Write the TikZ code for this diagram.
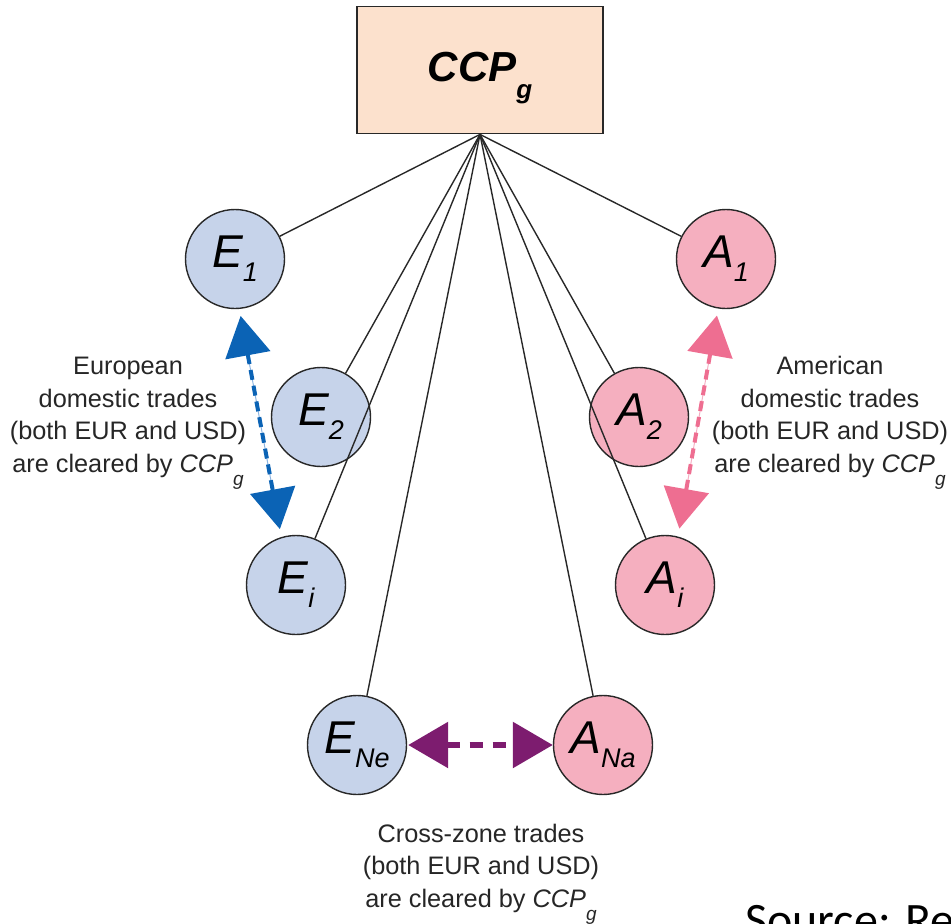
\documentclass[tikz,border=0pt]{standalone}
\usepackage{fontspec}
\setmainfont{Liberation Sans}
\newfontfamily\srcfont{Carlito}
\usetikzlibrary{arrows.meta}

\definecolor{ccpfill}{RGB}{252,225,205}
\definecolor{eufill}{RGB}{198,211,234}
\definecolor{amfill}{RGB}{245,175,191}
\definecolor{eublue}{RGB}{11,99,181}
\definecolor{eubluelight}{RGB}{140,180,225}
\definecolor{ampink}{RGB}{238,110,145}
\definecolor{ampinklight}{RGB}{245,175,195}
\definecolor{xpurple}{RGB}{125,28,111}
\definecolor{edgegray}{RGB}{40,40,40}

% participant label: italic letter with a lowered italic index
\newcommand{\plabel}[2]{{\fontsize{46}{46}\selectfont\itshape #1}\raisebox{-14pt}{\fontsize{27}{27}\selectfont\itshape #2}}
% CCP_g inside the running notes
\newcommand{\ccpinline}{{\itshape CCP}\raisebox{-13pt}{\fontsize{19}{19}\selectfont\itshape g}}

\begin{document}
\begin{tikzpicture}[x=1pt,y=-1pt,
  party/.style={circle, draw=edgegray, line width=1.4pt, minimum size=99pt, inner sep=0pt},
  eu/.style={party, fill=eufill},
  am/.style={party, fill=amfill},
  link/.style={draw=edgegray, line width=1.4pt},
  note/.style={align=center, inner sep=0pt, text=black!85, font=\fontsize{25.3}{32.5}\selectfont},
  tradeline/.style={line width=4pt, dash pattern=on 10pt off 6pt,
    {Triangle[length=40pt,width=45pt]}-{Triangle[length=40pt,width=45pt]}},
  guide/.style={line width=1pt}
]
\useasboundingbox (0,0) rectangle (951,924);

% central counterparty
\node[rectangle, draw=edgegray, line width=1.8pt, fill=ccpfill,
      minimum width=246pt, minimum height=127pt, inner sep=0pt,
      text height=32pt, text depth=10pt,
      font=\fontsize{42}{42}\selectfont\bfseries\itshape]
  (ccp) at (480,70) {CCP\raisebox{-17pt}{\fontsize{26}{26}\selectfont g}};

% European participants
\node[eu] (E1)  at (235,259) {\plabel{E}{1}};
\node[eu] (E2)  at (321,417) {\plabel{E}{2}};
\node[eu] (Ei)  at (296,585) {\plabel{E}{i}};
\node[eu] (ENe) at (357,745) {\plabel{E}{Ne}};

% American participants
\node[am] (A1)  at (726,259) {\plabel{A}{1}};
\node[am] (A2)  at (639,417) {\plabel{A}{2}};
\node[am] (Ai)  at (665,585) {\plabel{A}{i}};
\node[am] (ANa) at (603,745) {\plabel{A}{Na}};

% clearing links
\foreach \p in {E1,E2,Ei,ENe,A1,A2,Ai,ANa}
  \draw[link] (ccp.south) -- (\p);

% domestic trades (Europe)
\draw[guide, eubluelight, shorten <=40pt, shorten >=40pt] (E1.-85) -- (Ei.107);
\draw[tradeline, eublue, shorten <=7pt, shorten >=8pt] (E1.-85) -- (Ei.107);

% domestic trades (America)
\draw[guide, ampinklight, shorten <=40pt, shorten >=40pt] (A1.-99) -- (Ai.75);
\draw[tradeline, ampink, shorten <=7pt, shorten >=8pt] (A1.-99) -- (Ai.75);

% cross-zone trades
\draw[line width=6pt, xpurple, dash pattern=on 13pt off 10pt,
      {Triangle[length=40pt,width=45pt]}-{Triangle[length=40pt,width=45pt]},
      shorten <=1pt, shorten >=0pt] (ENe.east) -- (ANa.west);

% explanatory notes (anchored on the baseline of their last line)
\node[note, anchor=base] (eunote) at (128,472)
  {European\\domestic trades\\(both EUR and USD)\\are cleared by \ccpinline};
\node[note, anchor=base] (amnote) at (830,472)
  {American\\domestic trades\\(both EUR and USD)\\are cleared by \ccpinline};
\node[note, anchor=base] (xnote) at (481,907)
  {Cross-zone trades\\(both EUR and USD)\\are cleared by \ccpinline};

% source line
\begin{scope}
  \clip (0,0) rectangle (951,924);
  \node[anchor=base west, inner sep=0pt, font=\srcfont\fontsize{48}{48}\selectfont]
    (src) at (745,936) {Source: Re};
\end{scope}
\end{tikzpicture}
\end{document}
